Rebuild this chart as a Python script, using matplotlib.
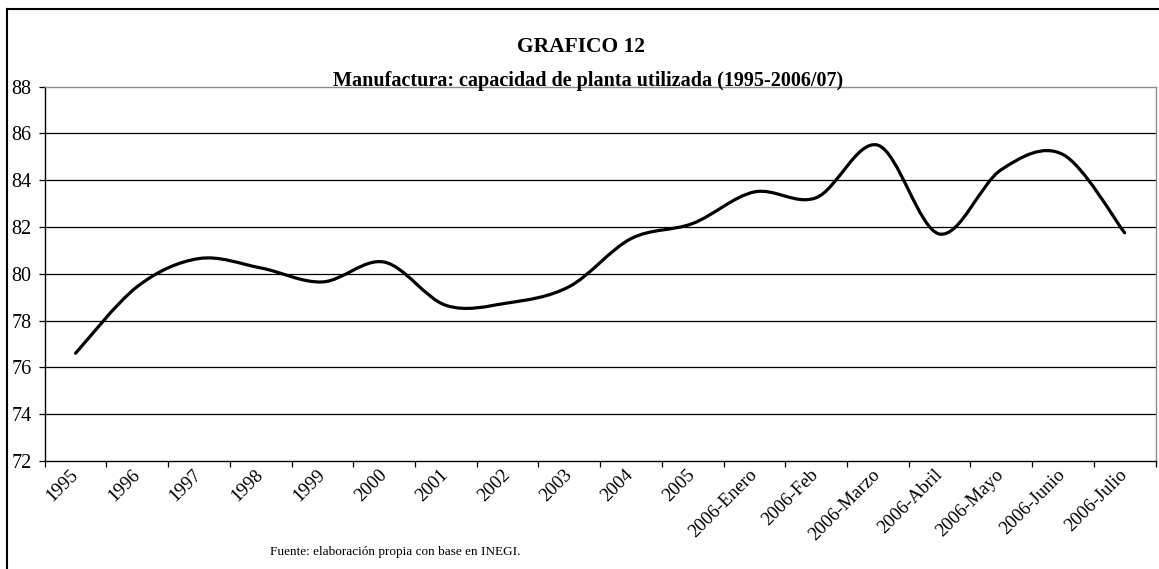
import numpy as np
import matplotlib.pyplot as plt
from matplotlib.path import Path
from matplotlib.patches import PathPatch
from matplotlib.lines import Line2D

categories = ['1995', '1996', '1997', '1998', '1999', '2000', '2001', '2002',
              '2003', '2004', '2005', '2006-Enero', '2006-Feb', '2006-Marzo',
              '2006-Abril', '2006-Mayo', '2006-Junio', '2006-Julio']
capacity = [76.6, 79.45, 80.65, 80.25, 79.65, 80.5, 78.65, 78.75, 79.45,
            81.5, 82.15, 83.5, 83.25, 85.5, 81.7, 84.45, 85.1, 81.75]
y_ticks = [72, 74, 76, 78, 80, 82, 84, 86, 88]

plt.rcParams['font.family'] = ['Liberation Serif', 'DejaVu Serif']


def smooth_path(xs, ys, k=1 / 6):
    # cubic bezier through every point, tangents from neighbouring points
    pts = np.column_stack([xs, ys]).astype(float)
    n = len(pts)
    verts = [pts[0]]
    codes = [Path.MOVETO]
    for i in range(n - 1):
        p_prev = pts[max(i - 1, 0)]
        p0, p1 = pts[i], pts[i + 1]
        p_next = pts[min(i + 2, n - 1)]
        c1 = p0 + (p1 - p_prev) * k
        c2 = p1 - (p_next - p0) * k
        verts += [c1, c2, p1]
        codes += [Path.CURVE4] * 3
    return Path(verts, codes)


W, H = 1159, 569
fig = plt.figure(figsize=(W / 100, H / 100), dpi=100)
ax = fig.add_axes([44.7 / W, 1 - 460.8 / H, (1155.5 - 44.7) / W, (460.8 - 86.7) / H])

x = np.arange(len(categories))
ax.add_patch(PathPatch(smooth_path(x, capacity), fill=False, edgecolor='black',
                       linewidth=2.3, capstyle='round', joinstyle='round', zorder=3))

ax.set_xlim(-0.5, len(categories) - 0.5)
ax.set_ylim(72, 88)

# horizontal gridlines
for v in y_ticks[1:-1]:
    ax.axhline(v, color='black', linewidth=0.9, zorder=1)

ax.set_yticks(y_ticks)
ax.set_yticklabels([str(v) for v in y_ticks], fontsize=14.5)
ax.tick_params(axis='y', direction='out', length=4.5, width=0.9, pad=5)

# ticks on category boundaries, labels in the middle of each category
ax.set_xticks(np.arange(-0.5, len(categories), 1))
ax.set_xticklabels([])
ax.set_xticks(x, minor=True)
ax.set_xticklabels(categories, minor=True, fontsize=13.5)
ax.tick_params(axis='x', which='major', direction='out', length=4, width=0.9)
ax.tick_params(axis='x', which='minor', length=0, pad=8)
for lab in ax.get_xticklabels(minor=True):
    lab.set_rotation(45)
    lab.set_ha('right')
    lab.set_va('center')
    lab.set_rotation_mode('anchor')

ax.spines['left'].set_color('black')
ax.spines['bottom'].set_color('black')
ax.spines['top'].set_color('#8c8c8c')
ax.spines['right'].set_color('#8c8c8c')
for s in ax.spines.values():
    s.set_linewidth(1.0)

fig.text(581 / W, 1 - 47 / H, 'GRAFICO 12', ha='center', va='center',
         fontsize=15.5, fontweight='bold')
fig.text(588 / W, 1 - 81 / H, 'Manufactura: capacidad de planta utilizada (1995-2006/07)',
         ha='center', va='center', fontsize=14.5, fontweight='bold')
fig.text(270 / W, 1 - 552 / H, 'Fuente: elaboración propia con base en INEGI.',
         ha='left', va='center', fontsize=9.5)

# outer frame of the chart
fig.add_artist(Line2D([7 / W, 7 / W], [1 - 9 / H, 0], color='black', linewidth=1.5))
fig.add_artist(Line2D([7 / W, 1], [1 - 9 / H, 1 - 9 / H], color='black', linewidth=1.5))

fig.savefig('out.png', dpi=100)
